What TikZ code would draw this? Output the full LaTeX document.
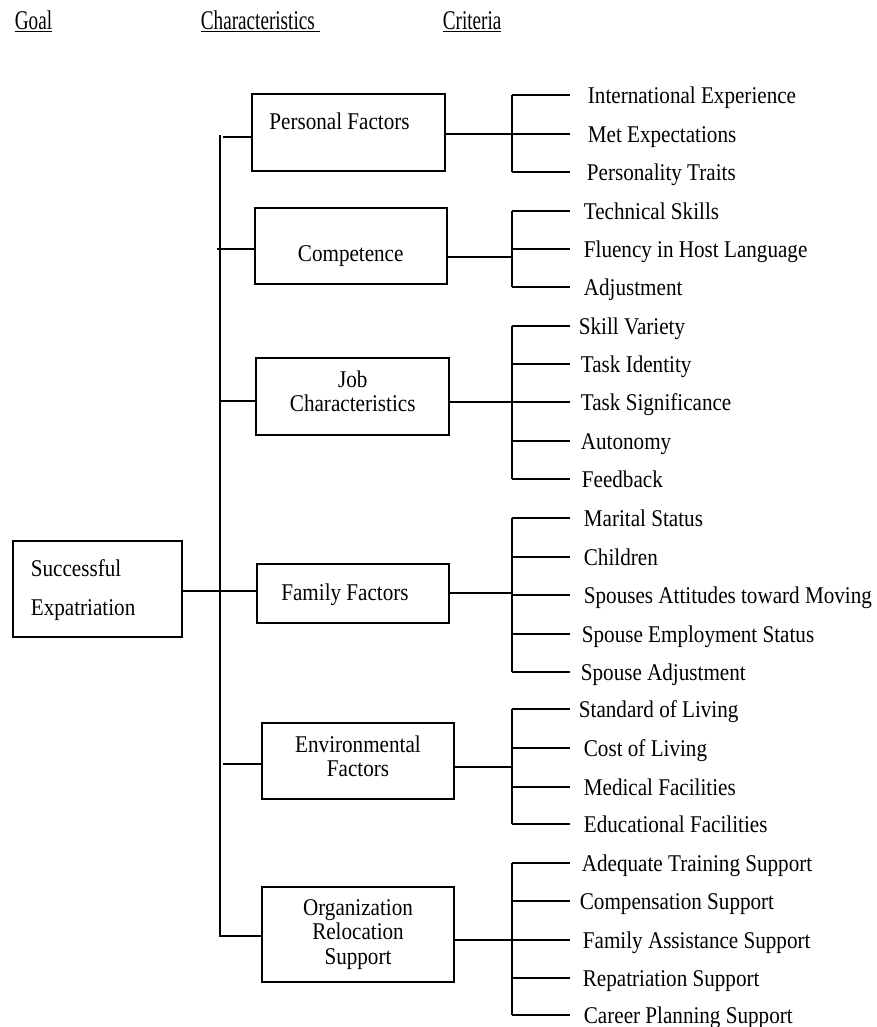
\documentclass[tikz,border=0pt]{standalone}
\usepackage{fontspec}
\setmainfont{Liberation Serif}[FakeStretch=0.88]
\newfontfamily\headfont{Liberation Serif}[FakeStretch=0.71]
\begin{document}
\begin{tikzpicture}[x=1pt,y=-1pt,line width=1.8pt,
  box/.style={draw,line width=1.8pt,inner sep=0pt,rectangle},
  lbl/.style={inner sep=0pt,anchor=base,align=center,font=\fontsize{24}{24.5}\selectfont},
  crit/.style={inner sep=0pt,anchor=base west,font=\fontsize{24}{25}\selectfont},
  head/.style={inner sep=0pt,anchor=base west,font=\headfont\fontsize{27}{32}\selectfont}]
\useasboundingbox (0,0) rectangle (876,1027);
% headers
\node[head] (hg) at (14,30) {\underline{Goal}};
\node[head] (hc) at (200,30) {\underline{Characteristics\ }};
\node[head] (hr) at (442,30) {\underline{Criteria}};
% boxes
\node[box,minimum width=169pt,minimum height=96pt] (goal) at (97.5,589) {};
\node[box,minimum width=193pt,minimum height=77pt] (pf) at (348.5,132.5) {};
\node[box,minimum width=192pt,minimum height=76pt] (cp) at (351,246) {};
\node[box,minimum width=193pt,minimum height=77pt] (jc) at (352.5,396.5) {};
\node[box,minimum width=192pt,minimum height=59pt] (ff) at (353,593.5) {};
\node[box,minimum width=192pt,minimum height=76pt] (ef) at (358,761) {};
\node[box,minimum width=192pt,minimum height=95pt] (org) at (358,934.5) {};
% box labels
\node[crit] (tg1) at (30,576.5) {Successful};
\node[crit] (tg2) at (30,615.5) {Expatriation};
\node[lbl] (tpf) at (339.5,130) {Personal Factors};
\node[lbl] (tcp) at (350.7,261.7) {Competence};
\node[lbl] (tjc) at (352.7,411.7) {Job\\Characteristics};
\node[lbl] (tff) at (345,600) {Family Factors};
\node[lbl] (tef) at (358,776.7) {Environmental\\Factors};
\node[lbl] (tor) at (358,964) {Organization\\Relocation\\Support};
% main vertical line
\coordinate (vt) at (220,135);
\coordinate (vb) at (220,937);
\draw (vt) -- (vb);
% left stubs
\coordinate (s1) at (222.7,137);
\coordinate (s2) at (217,249);
\coordinate (s3) at (220,401);
\coordinate (s5) at (223,764);
\coordinate (s6) at (220,936);
\draw (s1) -- (s1 -| pf.west);
\draw (s2) -- (s2 -| cp.west);
\draw (s3) -- (s3 -| jc.west);
\draw (goal.east |- 0,591) -- (ff.west |- 0,591);
\draw (s5) -- (s5 -| ef.west);
\draw (s6) -- (s6 -| org.west);
% right connectors and brackets
\coordinate (b1) at (512,134);
\coordinate (b2) at (512,257);
\coordinate (b3) at (512,402);
\coordinate (b4) at (512,593);
\coordinate (b5) at (512,767);
\coordinate (b6) at (512,940);
\draw (b1 -| pf.east) -- (b1);
\draw (b2 -| cp.east) -- (b2);
\draw (b3 -| jc.east) -- (b3);
\draw (b4 -| ff.east) -- (b4);
\draw (b5 -| ef.east) -- (b5);
\draw (b6 -| org.east) -- (b6);
\draw (512,95) -- (512,172);
\draw (512,211) -- (512,287);
\draw (512,326) -- (512,479);
\draw (512,518) -- (512,672);
\draw (512,709) -- (512,824);
\draw (512,863) -- (512,1015);
\foreach \y/\tx/\t [count=\i] in {
  95/587/International Experience, 134/587/Met Expectations, 172/586/Personality Traits,
  211/583/Technical Skills, 249/583/Fluency in Host Language, 287/583/Adjustment,
  326/578/Skill Variety, 364/580/Task Identity, 402/580/Task Significance, 441/580/Autonomy, 479/581/Feedback,
  518/583/Marital Status, 557/583/Children, 595/583/Spouses Attitudes toward Moving, 634/581/Spouse Employment Status, 672/580/Spouse Adjustment,
  709/578/Standard of Living, 748/583/Cost of Living, 787/583/Medical Facilities, 824/583/Educational Facilities,
  863/581/Adequate Training Support, 901/579/Compensation Support, 940/582/Family Assistance Support, 978/582/Repatriation Support, 1015/583/Career Planning Support}
{
  \coordinate (k\i) at (512,\y);
  \node[crit] (c\i) at (\tx,\y+8.5) {\t};
  \draw (k\i) -- (570,\y);
}
\end{tikzpicture}
\end{document}
